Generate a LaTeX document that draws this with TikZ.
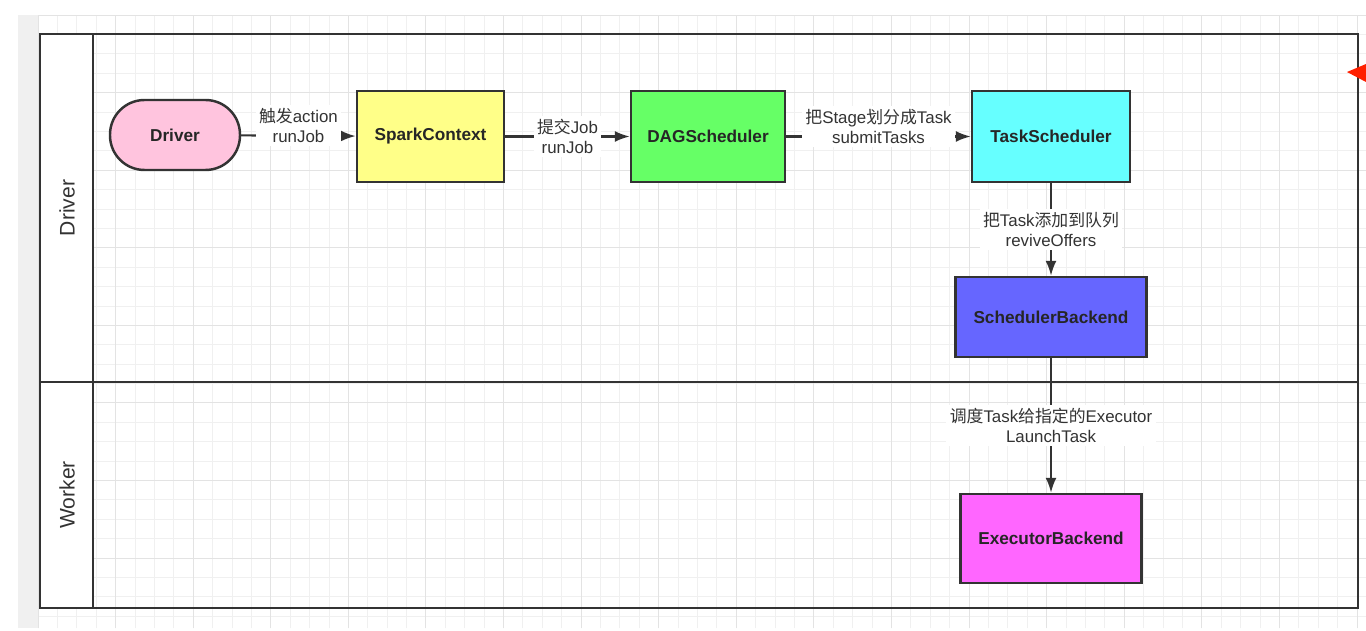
\documentclass[tikz,border=0pt]{standalone}
\usepackage{fontspec}
\setmainfont{Liberation Sans}
\newfontfamily\cjk{Noto Sans CJK SC}
\usepackage{tikz}
\usetikzlibrary{arrows.meta, positioning, backgrounds}
\definecolor{linegray}{HTML}{333333}
\definecolor{gridminor}{HTML}{F0F0F0}
\definecolor{gridmajor}{HTML}{E3E3E3}
\definecolor{driverpink}{HTML}{FFC4DE}
\definecolor{sparkyellow}{HTML}{FFFF88}
\definecolor{daggreen}{HTML}{66FF66}
\definecolor{taskcyan}{HTML}{66FFFF}
\definecolor{backendblue}{HTML}{6666FF}
\definecolor{execmagenta}{HTML}{FF66FF}
\tikzstyle{staterect}=[shape=rectangle,draw=linegray,line width=1.4pt,text=black!85,font=\fontsize{9.8}{12}\selectfont\bfseries]
\tikzstyle{statepill}=[staterect,rounded corners=0.69cm]
\tikzstyle{mainedge}=[{Latex[length=0.3cm,width=0.22cm]}-,draw=linegray,line width=1.2pt]
\tikzstyle{edgelabel}=[fill=white,align=center,text=black!80,inner sep=2pt,font=\fontsize{9.6}{11.4}\selectfont]
\tikzstyle{lane}=[draw=linegray,line width=1.2pt]
\tikzstyle{lanelabel}=[rotate=90,text=black!80,font=\fontsize{12}{14}\selectfont]

\begin{document}
\begin{tikzpicture}[x=0.02cm,y=-0.02cm]
\useasboundingbox (0,0) rectangle (1366,631);
\fill[white] (0,0) rectangle (1366,631);
% page background and grid
\fill[black!6] (18,15) rectangle (38,628);
\begin{scope}[shift={(38,15)}]
\draw[gridminor,line width=0.5pt] (0,0) grid[step=0.388cm] (1328,613);
\draw[gridmajor,line width=0.5pt] (0,0) grid[step=1.552cm] (1328,613);
\end{scope}

% swimlanes
\draw[lane] (40,34) rectangle (1358,608);
\draw[lane,fill=white] (40,34) rectangle (93,382);
\draw[lane,fill=white] (40,382) rectangle (93,608);
\draw[lane] (93,382) -- (1358,382);
\node[lanelabel] (laneDriver) at (67,208) {Driver};
\node[lanelabel] (laneWorker) at (67,495) {Worker};

% driver lane
\node[statepill,fill=driverpink,minimum width=2.6cm,minimum height=1.4cm] (n0_0) at (175,135) {Driver};
\node[staterect,fill=sparkyellow,minimum width=2.94cm,minimum height=1.82cm] (n1_0) at (430.5,136.5) {SparkContext}
  edge[mainedge] node[edgelabel,yshift=0.2cm] {{\cjk 触发}action\\runJob} (n0_0);
\node[staterect,fill=daggreen,minimum width=3.08cm,minimum height=1.82cm] (n2_0) at (708,136.5) {DAGScheduler}
  edge[mainedge] node[edgelabel] {{\cjk 提交}Job\\runJob} (n1_0);
\node[staterect,fill=taskcyan,minimum width=3.16cm,minimum height=1.82cm] (n3_0) at (1051,136.5) {TaskScheduler}
  edge[mainedge] node[edgelabel,yshift=0.2cm] {{\cjk 把}Stage{\cjk 划分成}Task\\submitTasks} (n2_0);
\node[staterect,fill=backendblue,minimum width=3.82cm,minimum height=1.6cm] (n3_1) at (1051,317) {SchedulerBackend}
  edge[mainedge] node[edgelabel] {{\cjk 把}Task{\cjk 添加到队列}\\reviveOffers} (n3_0);

% worker lane
\node[staterect,fill=execmagenta,minimum width=3.62cm,minimum height=1.78cm] (n3_2) at (1051,538.5) {ExecutorBackend}
  edge[mainedge] node[edgelabel] {{\cjk 调度}Task{\cjk 给指定的}Executor\\LaunchTask} (n3_1);

% pointer at the right edge
\fill[red!75!orange] (1347,72) -- (1366,64) -- (1366,82) -- cycle;
\end{tikzpicture}
\end{document}
